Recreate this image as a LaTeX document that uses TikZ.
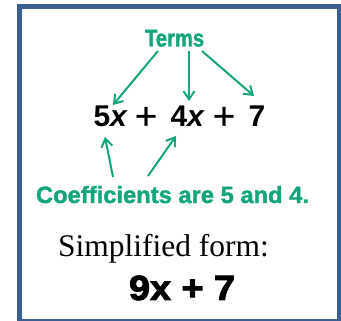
\documentclass[tikz,border=0pt]{standalone}
\usepackage{fontspec}
\setmainfont{Liberation Sans}
\newfontfamily\serifx{Liberation Serif}
\newfontfamily\boldsans{Liberation Sans Bold}
\newfontfamily\greenfont[FakeBold=1.5]{Liberation Sans Bold}
\newfontfamily\boldital{Liberation Sans Bold Italic}
\newfontfamily\heavy[FakeBold=2.5]{Liberation Sans Bold}
\newfontfamily\plusfont[FakeBold=0.8]{Liberation Sans}
\usetikzlibrary{arrows.meta}
\definecolor{framecol}{RGB}{60,95,145}
\definecolor{grn}{RGB}{20,165,125}
\tikzset{
  txt/.style={inner sep=0pt, outer sep=0pt, anchor=base west},
  green label/.style={txt, text=grn, font=\greenfont\fontsize{23.5}{24}\selectfont},
  eqpart/.style={txt, font=\boldsans\fontsize{30}{30}\selectfont},
  pluspart/.style={txt, font=\plusfont\fontsize{38}{38}\selectfont},
  arr/.style={draw=grn, line width=2pt, -{Straight Barb[length=8pt,width=11pt,line width=2pt]}},
}
\begin{document}
\begin{tikzpicture}[x=1pt,y=-1pt]
\useasboundingbox (0,0) rectangle (341,321);
\begin{scope}
\clip (0,0) rectangle (341,321);
\draw[framecol, line width=5pt] (19.5,6.5) rectangle (339,321.5);
\end{scope}
% labels
\node[green label] (terms) at (145,46.5) {\scalebox{0.86}[1.03]{Terms}};
\node[green label] (coef) at (36,203) {\scalebox{1.01}[1]{Coefficients are 5 and 4.}};
% expression
\node[eqpart] (t5x) at (93.5,127) {5\boldital x};
\node[pluspart] (p1) at (135,129) {+};
\node[eqpart] (t4x) at (170.5,127) {4\boldital x};
\node[pluspart] (p2) at (213,129) {+};
\node[eqpart] (t7) at (248.5,127) {7};
% simplified
\node[txt, font=\serifx\fontsize{31.5}{32}\selectfont] (simp) at (58,256.5) {Simplified form:};
\node[txt, font=\heavy\fontsize{35}{35}\selectfont] (res) at (129,300) {\scalebox{1.08}[1]{9x + 7}};
% arrow endpoints
\coordinate (a1s) at (158,51);
\coordinate (a1e) at (113,105);
\coordinate (a2s) at (189,51);
\coordinate (a2e) at (189,101);
\coordinate (a3s) at (202,51);
\coordinate (a3e) at (254,96);
\coordinate (b1s) at (113,177);
\coordinate (b1e) at (105,137);
\coordinate (b2s) at (148,176);
\coordinate (b2e) at (176,136);
\draw[arr] (a1s) -- (a1e);
\draw[arr] (a2s) -- (a2e);
\draw[arr] (a3s) -- (a3e);
\draw[arr] (b1s) -- (b1e);
\draw[arr] (b2s) -- (b2e);
\end{tikzpicture}
\end{document}
